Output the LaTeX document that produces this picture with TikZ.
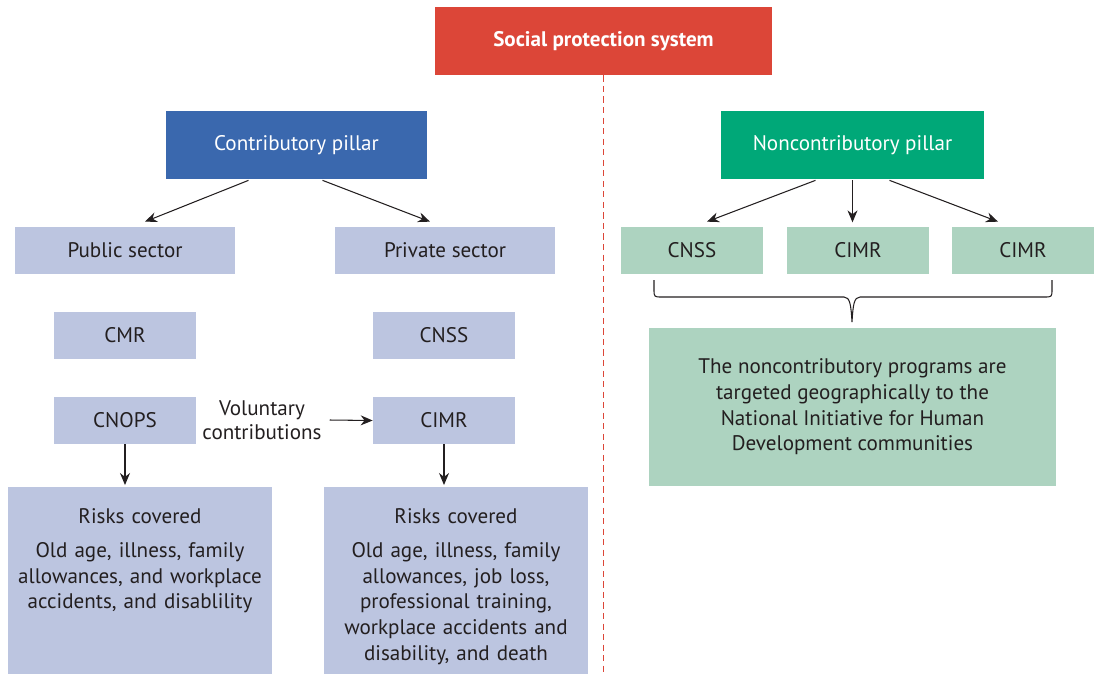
\documentclass[tikz,border=0pt]{standalone}
\usepackage{fontspec}
\setmainfont{PT Sans}
\usetikzlibrary{arrows.meta,calc}

\definecolor{sysred}{HTML}{DC4638}
\definecolor{contblue}{HTML}{3A68AE}
\definecolor{noncgreen}{HTML}{00A878}
\definecolor{lavender}{HTML}{BCC5E0}
\definecolor{mint}{HTML}{ADD3C0}
\definecolor{ink}{HTML}{231F20}

\begin{document}
\begin{tikzpicture}[
  x=0.02cm, y=-0.02cm,
  % Node styles
  sysbox/.style={rectangle, fill=sysred, text=white, minimum width=6.74cm,
    minimum height=1.36cm, align=center, font=\fontsize{12}{14.6}\selectfont\bfseries},
  contbox/.style={rectangle, fill=contblue, text=white, minimum width=5.22cm,
    minimum height=1.36cm, align=center, font=\fontsize{12}{14.6}\selectfont},
  noncbox/.style={rectangle, fill=noncgreen, text=white, minimum width=5.26cm,
    minimum height=1.36cm, align=center, font=\fontsize{12}{14.6}\selectfont},
  sectbox/.style={rectangle, fill=lavender, text=ink, minimum width=4.4cm,
    minimum height=0.94cm, align=center, font=\fontsize{12}{14.6}\selectfont},
  instbox/.style={rectangle, fill=lavender, text=ink, minimum width=2.84cm,
    minimum height=0.94cm, align=center, font=\fontsize{12}{14.6}\selectfont},
  progbox/.style={rectangle, fill=mint, text=ink, minimum width=2.84cm,
    minimum height=0.94cm, align=center, font=\fontsize{12}{14.6}\selectfont},
  riskbox/.style={rectangle, fill=lavender, minimum width=5.3cm,
    minimum height=3.74cm, anchor=north},
  risktext/.style={text=ink, text width=5cm, align=center, anchor=north,
    font=\fontsize{12}{14.6}\selectfont},
  notebox/.style={rectangle, fill=mint, text=ink, minimum width=8.14cm,
    minimum height=3.16cm, align=center, font=\fontsize{12}{14.6}\selectfont},
  plain/.style={text=ink, align=center, font=\fontsize{12}{13.8}\selectfont},
  arr/.style={-{Stealth[length=0.24cm, width=0.2cm]}, draw=ink, line width=0.6pt},
  brace/.style={draw=ink, line width=0.6pt},
]

\useasboundingbox (0,0) rectangle (1099,674);

% === Column positions ===
\def\colA{125}
\def\colB{444}

% === Top: system ===
\node[sysbox] (sps) at (603.5, 41) {Social protection system};
\coordinate (dashend) at (603.5, 674);
\draw[draw=sysred, line width=0.8pt, dash pattern=on 3.5pt off 2.5pt] (sps.south) -- (dashend);

% === Pillars ===
\node[contbox] (cp) at (296.5, 145) {Contributory pillar};
\node[noncbox] (ncp) at (852.5, 145) {Noncontributory pillar};

% === Contributory pillar (left, lavender) ===
\node[sectbox] (pub) at (\colA, 250.5) {Public sector};
\node[sectbox] (priv) at (445, 250.5) {Private sector};
\node[instbox] (cmr) at (\colA, 335.5) {CMR};
\node[instbox] (cnssa) at (\colB, 335.5) {CNSS};
\node[instbox] (cnops) at (\colA, 420.5) {CNOPS};
\node[instbox] (cimra) at (\colB, 420.5) {CIMR};
\node[plain] (vol) at (262, 420) {Voluntary\\contributions};

\node[riskbox] (riskA) at (140, 487) {};
\node[risktext] (riskAt) at ([yshift=-0.30cm]riskA.north)
  {Risks covered\\[5pt]Old age, illness, family\\allowances, and workplace\\accidents, and disablility};
\node[riskbox] (riskB) at (456, 487) {};
\node[risktext] (riskBt) at ([yshift=-0.30cm]riskB.north)
  {Risks covered\\[5pt]Old age, illness, family\\allowances, job loss,\\professional training,\\workplace accidents and\\disability, and death};

% === Noncontributory pillar (right, mint) ===
\node[progbox] (cnssb) at (692, 250.5) {CNSS};
\node[progbox] (cimrb) at (858, 250.5) {CIMR};
\node[progbox] (cimrc) at (1023, 250.5) {CIMR};
\node[notebox] (note) at (852.5, 407)
  {The noncontributory programs are\\targeted geographically to the\\National Initiative for Human\\Development communities};

% === Arrows ===
\draw[arr] ($(cp.south)+(-48,1)$) -- ($(pub.north)+(20,-5)$);
\draw[arr] ($(cp.south)+(26,1)$) -- ($(priv.north)+(-15,-5)$);
\draw[arr] (cnops.south) -- ([yshift=0.04cm]riskA.north -| cnops);
\draw[arr] (cimra.south) -- ([yshift=0.04cm]riskB.north -| cimra);
\draw[arr] ([xshift=0.04cm]vol.east) -- (cimra.west);
\draw[arr] ($(ncp.south)+(-37,1)$) -- ($(cnssb.north)+(15,-5)$);
\draw[arr] ($(ncp.south)+(0,1)$) -- ($(ncp.south)+(0,43)$);
\draw[arr] ($(ncp.south)+(37,1)$) -- ($(cimrc.north)+(-25,-5)$);

% === Brace over the programs ===
\draw[brace] (654,280) -- (654,289) .. controls (654,297) .. (662,297) -- (844,297)
  .. controls (850,297) and (851,305) .. (852,322)
  .. controls (853,305) and (854,297) .. (860,297) -- (1044,297)
  .. controls (1052,297) .. (1052,289) -- (1052,280);

\end{tikzpicture}
\end{document}
